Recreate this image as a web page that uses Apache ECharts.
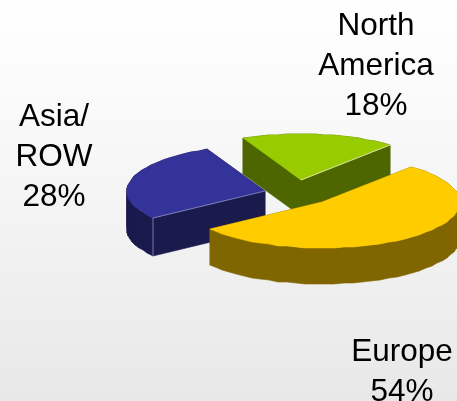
<!DOCTYPE html>
<html>
<head>
<meta charset="utf-8">
<style>html,body{margin:0;padding:0;background:#fff}#c{width:457px;height:401px}</style>
<script src="https://cdn.jsdelivr.net/npm/echarts@6/dist/echarts.min.js"></script>
</head>
<body>
<div id="c"></div>
<script>
var categories = ['Asia/\nROW', 'North\nAmerica', 'Europe'];
var shares = [28, 18, 54];

// Look of the pseudo-3D pie
var topColors = ['#333399', '#99cc00', '#ffcc00'];
var sideColors = ['#1a1a4d', '#4d6600', '#806600'];
var edgeColors = ['#8f8fc0', '#e8f0c8', null];
var apexes = [[265, 191], [301, 180], [322, 202]];
var depths = [38, 36, 36];
var labelAt = [[54, 97], [376, 6], [402, 332]];
var RX = 138, RY = 46, START = 215.5, STEP = 4;

var total = shares.reduce(function (a, b) { return a + b; }, 0);
var chart = echarts.init(document.getElementById('c'), null, { renderer: 'canvas' });

function renderItem(params, api) {
  var i = params.dataIndex, before = 0;
  for (var k = 0; k < i; k++) before += shares[k];
  var v = api.value(0);
  var t0 = START - before / total * 360, t1 = t0 - v / total * 360;
  var c = apexes[i];
  var arc = [], n = Math.ceil((t0 - t1) / STEP);
  for (var s = 0; s <= n; s++) {
    var t = (t0 + (t1 - t0) * s / n) * Math.PI / 180;
    arc.push([Math.round(c[0] + RX * Math.cos(t)), Math.round(c[1] - RY * Math.sin(t))]);
  }
  var down = function (p) { return [p[0], p[1] + depths[i]]; };
  var children = [];
  var outline = [c].concat(arc);
  var sideStyle = { fill: sideColors[i], stroke: sideColors[i], lineWidth: 0.6 };
  for (var j = 0; j < outline.length; j++) {
    var a = outline[j], b = outline[(j + 1) % outline.length];
    children.push({ type: 'polygon', shape: { points: [a, b, down(b), down(a)] }, style: sideStyle });
  }
  children.push({ type: 'polygon', shape: { points: outline }, style: { fill: topColors[i], stroke: topColors[i], lineWidth: 0.5 } });
  if (edgeColors[i]) {
    var corner = i === 0 ? arc[0] : arc[arc.length - 1];
    children.push({ type: 'polyline', shape: { points: [c, corner] }, style: { fill: null, stroke: edgeColors[i], lineWidth: 0.8 } });
    if (i === 0) children.push({ type: 'polyline', shape: { points: [corner, down(corner)] }, style: { fill: null, stroke: edgeColors[i], lineWidth: 0.8 } });
  }
  children.push({
    type: 'text',
    z2: 10,
    style: {
      x: labelAt[i][0], y: labelAt[i][1],
      text: categories[i] + '\n' + v + '%',
      fill: '#000', align: 'center', verticalAlign: 'top',
      font: '31.5px "Liberation Sans", Arial, sans-serif',
      lineHeight: 40
    }
  });
  return { type: 'group', children: children };
}

chart.setOption({
  animation: false,
  backgroundColor: {
    type: 'linear', x: 0, y: 0, x2: 0, y2: 1,
    colorStops: [{ offset: 0, color: '#ffffff' }, { offset: 0.3, color: '#f9f9f9' }, { offset: 1, color: '#e8e8e8' }]
  },
  series: [{
    type: 'custom',
    coordinateSystem: 'none',
    renderItem: renderItem,
    clip: false,
    data: shares.map(function (v) { return [v]; })
  }]
});
</script>
</body>
</html>
